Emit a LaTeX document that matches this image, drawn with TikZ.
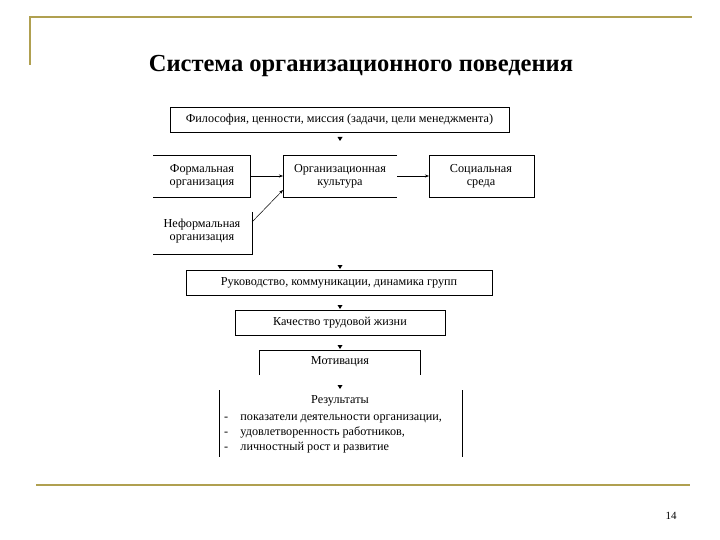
\documentclass[tikz,border=0pt]{standalone}
\usepackage{fontspec}
\setmainfont{Liberation Serif}
\usetikzlibrary{arrows.meta}
\definecolor{gold}{RGB}{176,160,80}
\begin{document}
\begin{tikzpicture}[x=1pt,y=-1pt,
  txt/.style={font=\fontsize{12.2}{13}\selectfont,align=center,inner sep=0},
  ln/.style={line width=0.7pt},
  arr/.style={-{Stealth[length=4pt,width=3pt]},line width=0.5pt}]
\useasboundingbox (0,0) rectangle (720,540);
\draw[gold,line width=2pt] (30,65) -- (30,17) -- (692,17);
\draw[gold,line width=2.5pt] (36,485) -- (690,485);
\node[font=\bfseries\fontsize{24.5}{26}\selectfont] (title) at (361,66) {Система организационного поведения};
\node[font=\fontsize{11}{12}\selectfont] (pg) at (671,516) {14};
% boxes
\draw[ln] (170,107) rectangle (509,132);
\node[txt] (phil) at (339.5,119.5) {Философия, ценности, миссия (задачи, цели менеджмента)};
\draw[ln] (153,155) -- (250,155) -- (250,197) -- (153,197);
\node[txt] (form) at (202,176) {Формальная\\организация};
\draw[ln] (397,155) -- (283,155) -- (283,197) -- (397,197);
\node[txt] (cult) at (340,176) {Организационная\\культура};
\draw[ln] (429,155) rectangle (534,197);
\node[txt] (soc) at (481,176) {Социальная\\среда};
\draw[ln] (252,212) -- (252,254) -- (153,254);
\node[txt] (inf) at (202,231) {Неформальная\\организация};
\draw[ln] (186,270) rectangle (492,295);
\node[txt] (ruk) at (339,282.5) {Руководство, коммуникации, динамика групп};
\draw[ln] (235,310) rectangle (445,335);
\node[txt] (kach) at (340,322.5) {Качество трудовой жизни};
\draw[ln] (259,375) -- (259,350) -- (420,350) -- (420,375);
\node[txt] (mot) at (340,362) {Мотивация};
\draw[ln] (219,390) -- (219,457) (462,390) -- (462,457);
\node[txt] (res) at (340,401) {Результаты};
\node[txt,align=left,anchor=north west,font=\fontsize{12.2}{15}\selectfont] (list) at (224,415) {-\quad показатели деятельности организации,\\-\quad удовлетворенность работников,\\-\quad личностный рост и развитие};
% arrows
\coordinate (fr) at (250,176); \coordinate (cl) at (283,176);
\coordinate (cr) at (397,176); \coordinate (sl) at (429,176);
\coordinate (ir) at (252,222); \coordinate (cb) at (283,190);
\draw[arr] (fr) -- (cl);
\draw[arr] (cr) -- (sl);
\draw[arr] (ir) -- (cb);
\foreach \y in {137,265,305,345,385}
  \fill (337.5,\y) -- (342.5,\y) -- (340,\y+4) -- cycle;
\end{tikzpicture}
\end{document}
